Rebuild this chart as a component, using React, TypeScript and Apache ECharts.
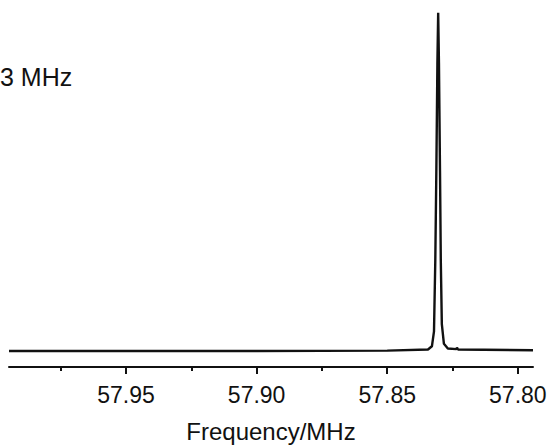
import React, { useEffect, useRef } from "react";
import * as echarts from "echarts";

const FREQ_MHZ = [
  57.9948, 57.9, 57.85, 57.8344, 57.8329, 57.8321, 57.8316, 57.8312, 57.8308, 57.8305,
  57.8302, 57.8298, 57.8295, 57.8291, 57.8283, 57.8268, 57.8235, 57.8233, 57.8229,
  57.7942,
];
const INTENSITY = [
  0.045, 0.045, 0.046, 0.049, 0.058, 0.1, 0.3, 0.55, 0.85, 0.992,
  0.85, 0.55, 0.3, 0.12, 0.065, 0.052, 0.05, 0.054, 0.049,
  0.047,
];
const MAJOR_TICKS = [57.8, 57.85, 57.9, 57.95];
const MINOR_TICKS = [57.825, 57.875, 57.925, 57.975];
const X_MIN = 57.7942;
const X_MAX = 57.9948;
const AXIS_NAME = "Frequency/MHz";
const ANNOTATION = "3 MHz";

export default function App() {
  const ref = useRef<HTMLDivElement>(null);
  useEffect(() => {
    document.body.style.margin = "0";
    const chart = echarts.init(ref.current!, undefined, { renderer: "svg" });
    const data = FREQ_MHZ.map((f, i) => [f, INTENSITY[i]]);
    chart.setOption({
      animation: false,
      backgroundColor: "#ffffff",
      grid: { left: 9, right: 17, top: 10, bottom: 80 },
      xAxis: [
        {
          type: "value",
          inverse: true,
          min: X_MIN,
          max: X_MAX,
          position: "bottom",
          splitLine: { show: false },
          axisLine: { show: true, lineStyle: { color: "#111", width: 2 } },
          axisTick: {
            show: true,
            inside: false,
            length: 7,
            customValues: MAJOR_TICKS,
            lineStyle: { color: "#111", width: 2 },
          },
          axisLabel: {
            show: true,
            customValues: MAJOR_TICKS,
            formatter: (v: number) => v.toFixed(2),
            margin: 16,
            color: "#111",
            fontSize: 23,
            fontFamily: "'Liberation Sans', Arial, sans-serif",
          },
          name: AXIS_NAME,
          nameLocation: "middle",
          nameGap: 52,
          nameTextStyle: {
            color: "#111",
            fontSize: 24,
            fontFamily: "'Liberation Sans', Arial, sans-serif",
          },
        },
        {
          type: "value",
          inverse: true,
          min: X_MIN,
          max: X_MAX,
          position: "bottom",
          offset: 0,
          splitLine: { show: false },
          axisLine: { show: false },
          axisTick: {
            show: true,
            inside: false,
            length: 4,
            customValues: MINOR_TICKS,
            lineStyle: { color: "#111", width: 2 },
          },
          axisLabel: { show: false },
        },
      ],
      yAxis: {
        type: "value",
        min: 0,
        max: 1,
        show: false,
        splitLine: { show: false },
      },
      series: [
        {
          type: "line",
          xAxisIndex: 0,
          data,
          showSymbol: false,
          smooth: false,
          lineStyle: { color: "#111", width: 2.4 },
          silent: true,
        },
      ],
      graphic: [
        {
          type: "text",
          left: 0,
          top: 64,
          style: {
            text: ANNOTATION,
            fill: "#111",
            fontSize: 25,
            fontFamily: "'Liberation Sans', Arial, sans-serif",
          },
        },
      ],
    });
    return () => chart.dispose();
  }, []);
  return <div ref={ref} style={{ width: 550, height: 448 }} />;
}
